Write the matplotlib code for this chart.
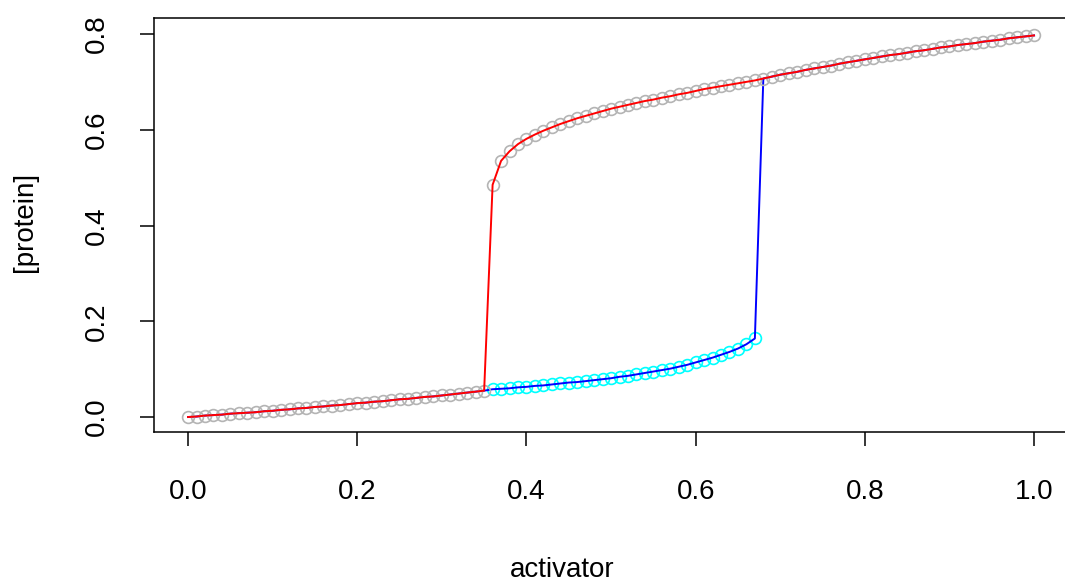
# plot.py
# 滞后曲线（activator vs [protein]），仿 R base plot 风格
import matplotlib
matplotlib.use('Agg')
import matplotlib.pyplot as plt
import numpy as np

###########数据###########
# 激活剂扫描点 0.00 ~ 1.00，步长 0.01
activator = [i / 100 for i in range(101)]

# 上升扫描（灰圈 + 红线）
protein_up = [
    0.000, 0.001, 0.003, 0.004, 0.005, 0.007, 0.008, 0.009, 0.010, 0.012,
    0.013, 0.015, 0.016, 0.018, 0.019, 0.021, 0.022, 0.024, 0.025, 0.027,
    0.029, 0.030, 0.032, 0.033, 0.035, 0.037, 0.038, 0.040, 0.042, 0.043,
    0.045, 0.047, 0.049, 0.051, 0.053, 0.055,
    0.485, 0.535, 0.555, 0.570,
    0.581, 0.590, 0.598, 0.605, 0.612, 0.618, 0.624, 0.629, 0.634, 0.639,
    0.644, 0.648, 0.652, 0.656, 0.660, 0.663, 0.667, 0.670, 0.674, 0.677,
    0.681, 0.685, 0.688, 0.691, 0.694, 0.697, 0.700, 0.703, 0.707, 0.711,
    0.715, 0.718, 0.721, 0.725, 0.728, 0.731, 0.734, 0.738, 0.741, 0.744,
    0.747, 0.750, 0.753, 0.756, 0.758, 0.761, 0.764, 0.766, 0.769, 0.772,
    0.774, 0.777, 0.779, 0.781, 0.784, 0.786, 0.788, 0.791, 0.793, 0.795,
    0.797,
]

# 下降扫描在 0.36 ~ 0.67 段停留在低分支（青圈 + 蓝线）
low_start, low_end = 36, 67
protein_low = [
    0.058, 0.059, 0.060, 0.062, 0.063, 0.065, 0.066, 0.068, 0.070, 0.072,
    0.073, 0.075, 0.077, 0.079, 0.081, 0.084, 0.086, 0.089, 0.092, 0.095,
    0.098, 0.101, 0.105, 0.109, 0.114, 0.119, 0.124, 0.130, 0.136, 0.143,
    0.152, 0.164,
]

protein_down = list(protein_up)
protein_down[low_start:low_end + 1] = protein_low
act_low = activator[low_start:low_end + 1]

###########绘图###########
plt.rcParams['font.family'] = ['Liberation Sans', 'DejaVu Sans']

fig = plt.figure(figsize=(10.65, 5.86), dpi=100)
W, H = 1065, 586
# 按像素放置绘图区域
left, right, top, bottom = 154.2, 1067.9, 18, 432
ax = fig.add_axes([left / W, 1 - bottom / H, (right - left) / W, (bottom - top) / H])

# 灰圈会盖住共同段的青圈，这里只画低分支的青圈
ax.plot(act_low, protein_low, 'o', ms=8.5, mfc='none', mec='cyan', mew=1.2)
ax.plot(activator, protein_down, '-', color='blue', lw=1.4)
ax.plot(activator, protein_up, 'o', ms=8.5, mfc='none', mec='#b4b4b4', mew=1.2)
ax.plot(activator, protein_up, '-', color='red', lw=1.4)

ax.set_xlim(-0.04, 1.04)
ax.set_ylim(-0.0313, 0.8334)
ax.set_xticks([0.0, 0.2, 0.4, 0.6, 0.8, 1.0])
ax.set_yticks([0.0, 0.2, 0.4, 0.6, 0.8])
ax.set_xticklabels(['0.0', '0.2', '0.4', '0.6', '0.8', '1.0'])
ax.set_yticklabels(['0.0', '0.2', '0.4', '0.6', '0.8'], rotation=90, va='center')

ax.tick_params(direction='out', length=10, width=1.1, labelsize=20, color='black')
ax.tick_params(axis='x', pad=24)
ax.tick_params(axis='y', pad=22)
for s in ax.spines.values():
    s.set_linewidth(1.1)

fig.text(562 / W, 1 - 570 / H, 'activator', fontsize=20, ha='center', va='center')
fig.text(25 / W, 1 - 222 / H, '[protein]', fontsize=20, rotation=90, ha='center', va='center')

fig.savefig('out.png', dpi=100)
